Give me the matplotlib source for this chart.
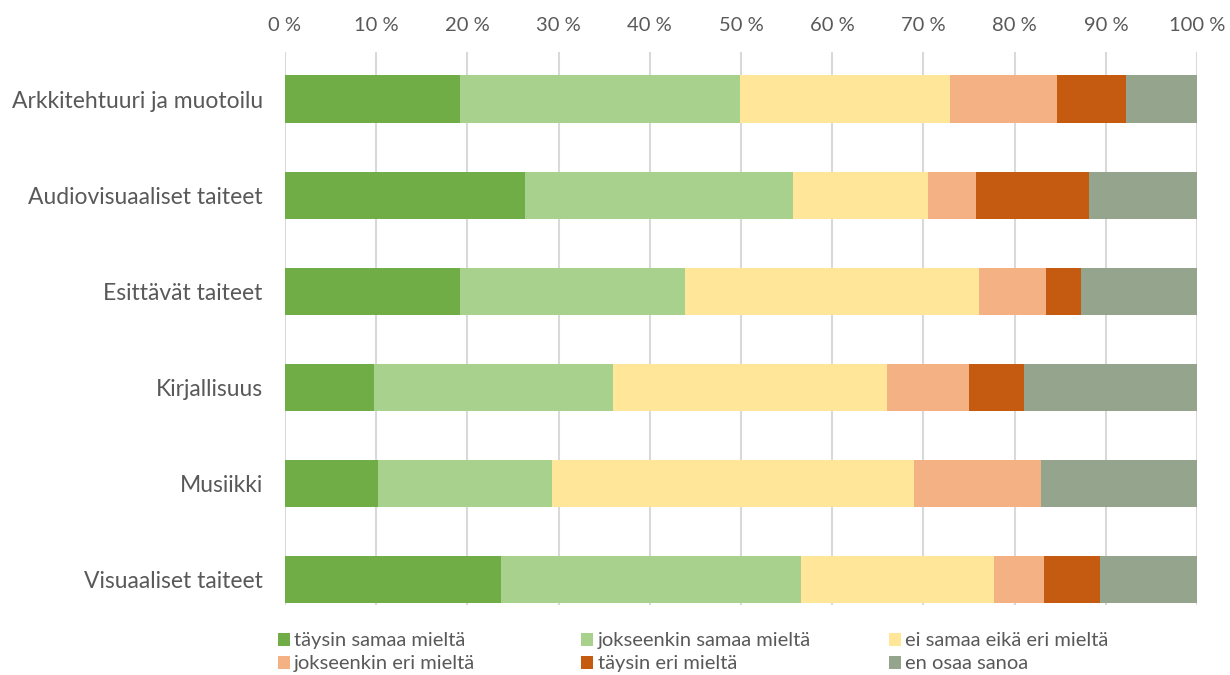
import matplotlib.pyplot as plt
import numpy as np

plt.rcParams['font.family'] = ['Lato', 'DejaVu Sans']

# Datos (porcentajes)
kategoriat = ['Arkkitehtuuri ja muotoilu', 'Audiovisuaaliset taiteet', 'Esittävät taiteet',
              'Kirjallisuus', 'Musiikki', 'Visuaaliset taiteet']
sarjat = ['täysin samaa mieltä', 'jokseenkin samaa mieltä', 'ei samaa eikä eri mieltä',
          'jokseenkin eri mieltä', 'täysin eri mieltä', 'en osaa sanoa']
taysin_samaa = [19.2, 26.3, 19.2, 9.8, 10.2, 23.7]
jokseenkin_samaa = [30.7, 29.4, 24.7, 26.2, 19.1, 32.9]
ei_samaa_eika_eri = [23.0, 14.8, 32.2, 30.0, 39.7, 21.1]
jokseenkin_eri = [11.7, 5.3, 7.3, 9.0, 13.9, 5.5]
taysin_eri = [7.6, 12.4, 3.9, 6.0, 0.0, 6.2]
en_osaa = [7.8, 11.8, 12.7, 19.0, 17.1, 10.6]
tick_labels = [f'{v} %' for v in range(0, 101, 10)]

arvot = [taysin_samaa, jokseenkin_samaa, ei_samaa_eika_eri, jokseenkin_eri, taysin_eri, en_osaa]
varit = ['#70AD47', '#A9D18E', '#FFE699', '#F4B183', '#C55A11', '#95A48C']
teksti = '#595959'

fig = plt.figure(figsize=(12.3, 6.75), dpi=100)
ax = fig.add_axes([0.2317, 0.1037, 0.7415, 0.8193])

y = np.arange(len(kategoriat))
vasen = np.zeros(len(kategoriat))
palkit = []
for nimi, vals, vari in zip(sarjat, arvot, varit):
    vals = np.array(vals)
    b = ax.barh(y, vals, left=vasen, height=0.49, color=vari, label=nimi, zorder=3)
    palkit.append(b)
    vasen += vals

ax.set_xlim(0, 100)
ax.set_ylim(5.27, -0.49)
ax.set_xticks(range(0, 101, 10))
ax.set_xticklabels(tick_labels)
ax.xaxis.tick_top()
ax.tick_params(axis='x', length=0, pad=13, labelsize=14.5, colors=teksti)
ax.set_yticks(y)
ax.set_yticklabels(kategoriat)
ax.tick_params(axis='y', length=0, pad=16, labelsize=16.5, colors=teksti)
ax.grid(axis='x', color='#D9D9D9', linewidth=1.5, zorder=0)
for s in ax.spines.values():
    s.set_visible(False)

# Leyenda en tres columnas de ancho igual
for i, x0 in enumerate([0.2175, 0.4645, 0.7145]):
    fig.legend(handles=[palkit[i], palkit[i + 3]], labels=[sarjat[i], sarjat[i + 3]],
               loc='upper left', bbox_to_anchor=(x0, 0.078), frameon=False,
               handlelength=0.6, handleheight=0.6, handletextpad=0.2,
               labelspacing=0.3, borderpad=0, fontsize=14.5, labelcolor=teksti)

fig.savefig('out.png', dpi=100)
